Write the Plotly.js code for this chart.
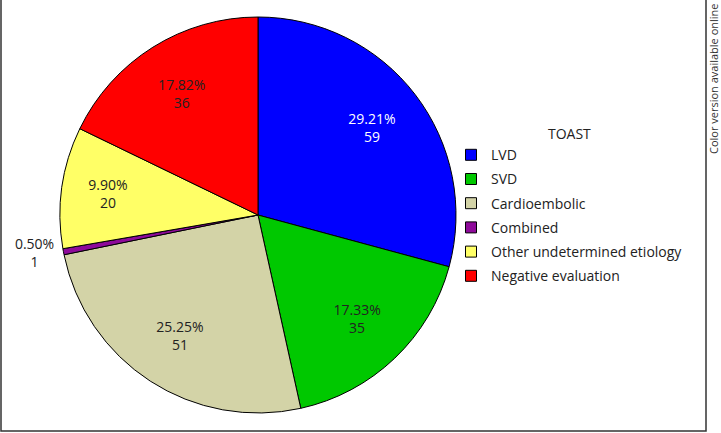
<!DOCTYPE html>
<html>
<head>
<meta charset="utf-8">
<script src="https://cdn.plot.ly/plotly-3.0.1.min.js"></script>
<style>html,body{margin:0;padding:0;background:#fff;}#chart{width:721px;height:433px;}</style>
</head>
<body>
<div id="chart"></div>
<script>
const categories = ["LVD", "SVD", "Cardioembolic", "Combined", "Other undetermined etiology", "Negative evaluation"];
const counts = [59, 35, 51, 1, 20, 36];
const sliceColors = ["#0000FF", "#00C800", "#D3D3A7", "#8E0A9A", "#FFFF66", "#FF0000"];
const textColors = ["#FFFFFF", "#222222", "#222222", "#222222", "#222222", "#222222"];
const textPositions = ["inside", "inside", "inside", "outside", "inside", "inside"];
const legendTitle = "TOAST";
const sideNote = "Color version available online";

const W = 721, H = 433;
const font = "Open Sans, Noto Sans, sans-serif";
const pieDomain = {x: [60 / W, 456 / W], y: [1 - 413 / H, 1 - 17 / H]};

const traces = [{
  // coloured slices with black borders
  type: "pie",
  labels: categories,
  values: counts,
  sort: false,
  direction: "clockwise",
  rotation: 0,
  marker: {colors: sliceColors, line: {color: "#000000", width: 1}},
  textinfo: "none",
  showlegend: false,
  hoverinfo: "label+value+percent",
  domain: pieDomain
}, {
  // transparent ring carrying the labels (places them further out)
  type: "pie",
  labels: categories,
  values: counts,
  sort: false,
  direction: "clockwise",
  rotation: 0,
  hole: 0.45,
  marker: {colors: sliceColors.map(() => "rgba(0,0,0,0)"), line: {width: 0}},
  texttemplate: "%{percent:.2%}<br>%{value}",
  textposition: textPositions,
  insidetextorientation: "horizontal",
  textfont: {family: font, size: 14, color: textColors},
  outsidetextfont: {family: font, size: 14, color: "#222222"},
  showlegend: false,
  hoverinfo: "skip",
  domain: pieDomain
}];

categories.forEach((c, i) => {
  traces.push({
    type: "scatter",
    mode: "markers",
    x: [null], y: [null],
    name: c,
    legendgroup: "g" + i,
    showlegend: true,
    marker: {symbol: "square", size: 11, color: sliceColors[i], line: {color: "#000000", width: 1}},
    hoverinfo: "skip"
  });
});

const layout = {
  width: W, height: H,
  margin: {l: 0, r: 0, t: 0, b: 0},
  paper_bgcolor: "#ffffff",
  plot_bgcolor: "rgba(0,0,0,0)",
  font: {family: font, size: 14, color: "#222222"},
  xaxis: {visible: false},
  yaxis: {visible: false},
  showlegend: true,
  legend: {
    x: 451 / W, xanchor: "left",
    y: 1 - 121 / H, yanchor: "top",
    traceorder: "grouped",
    tracegroupgap: 3,
    bgcolor: "rgba(0,0,0,0)",
    font: {family: font, size: 14, color: "#222222"},
    title: {text: legendTitle, side: "top center", font: {family: font, size: 14, color: "#222222"}}
  },
  shapes: [{
    type: "rect", xref: "paper", yref: "paper",
    x0: 1 / W, x1: 706 / W, y0: 1 - 431 / H, y1: 1.01,
    line: {color: "#333333", width: 1.5}
  }],
  annotations: [{
    text: sideNote, xref: "paper", yref: "paper",
    x: 713 / W, xanchor: "center", y: 1 - 2 / H, yanchor: "top",
    textangle: -90, showarrow: false,
    font: {family: font, size: 11, color: "#333333"}
  }]
};

Plotly.newPlot("chart", traces, layout, {displayModeBar: false, staticPlot: true});
</script>
</body>
</html>
